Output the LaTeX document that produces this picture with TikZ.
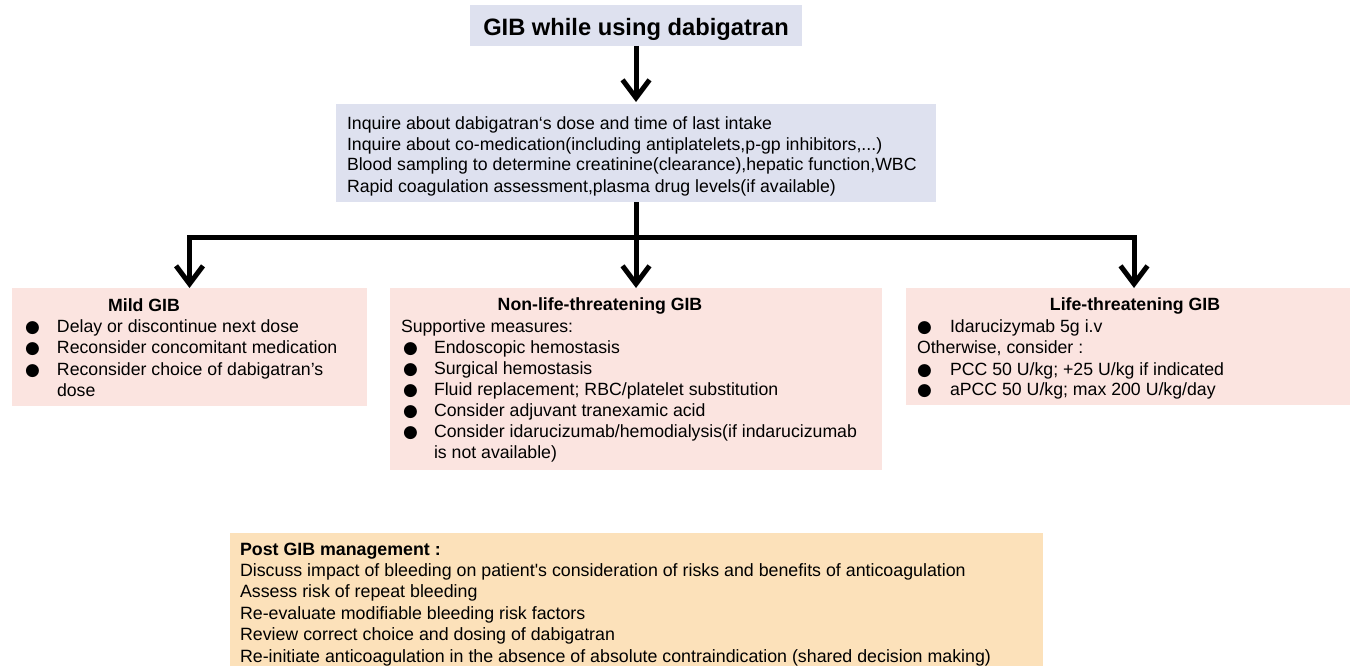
\documentclass[tikz,border=0pt]{standalone}
\usepackage{fontspec}
\setmainfont{Liberation Sans}[Ligatures=TeXOff]
\newfontfamily\dejavu{DejaVu Sans}
\usetikzlibrary{arrows.meta}
\definecolor{lav}{RGB}{222,225,239}
\definecolor{pinkbox}{RGB}{251,228,224}
\definecolor{peach}{RGB}{252,225,186}
\newcommand{\bul}{{\dejavu\fontsize{17}{17}\selectfont ●}}
\newcommand{\bi}[2]{\makebox[#1][l]{\bul}#2}
\begin{document}
\begin{tikzpicture}[x=1pt,y=-1pt,
  box/.style={draw=none,inner sep=0pt,outer sep=0pt,anchor=north west},
  txt/.style={inner sep=0pt,outer sep=0pt,anchor=base west,font=\fontsize{17.7}{20}\selectfont},
  ptxt/.style={inner sep=0pt,outer sep=0pt,anchor=base west,font=\fontsize{17.8}{20}\selectfont},
  ttl/.style={inner sep=0pt,outer sep=0pt,anchor=base,font=\fontsize{17.7}{20}\selectfont\bfseries},
  conn/.style={line width=5pt,-{Straight Barb[length=18pt,width=27pt]}}]
\useasboundingbox (0,0) rectangle (1352,666);
\fill[white] (0,0) rectangle (1352,666);

% boxes
\node[box,fill=lav,minimum width=332pt,minimum height=41pt] (title) at (470,5) {};
\node[box,fill=lav,minimum width=600pt,minimum height=98pt] (info) at (336,104) {};
\node[box,fill=pinkbox,minimum width=355pt,minimum height=118pt] (mild) at (12,288) {};
\node[box,fill=pinkbox,minimum width=492pt,minimum height=182pt] (nonlife) at (390,288) {};
\node[box,fill=pinkbox,minimum width=444pt,minimum height=117pt] (life) at (906,288) {};
\node[box,fill=peach,minimum width=813pt,minimum height=140pt] (post) at (230,533) {};

% title
\node[inner sep=0pt,anchor=base,font=\fontsize{23.7}{26}\selectfont\bfseries] (ttltext) at (636,36) {GIB while using dabigatran};

% info text
\node[txt] (i1) at (347,130) {Inquire about dabigatran‘s dose and time of last intake};
\node[txt] (i2) at (347,150.5) {Inquire about co-medication(including antiplatelets,p-gp inhibitors,...)};
\node[txt] (i3) at (347,171) {Blood sampling to determine creatinine(clearance),hepatic function,WBC};
\node[txt] (i4) at (347,192) {Rapid coagulation assessment,plasma drug levels(if available)};

% mild
\node[ttl] (m0) at (144,311) {Mild GIB};
\node[txt] (m1) at (25,332) {\bi{32pt}{Delay or discontinue next dose}};
\node[txt] (m2) at (25,353) {\bi{32pt}{Reconsider concomitant medication}};
\node[txt] (m3) at (25,375) {\bi{32pt}{Reconsider choice of dabigatran’s}};
\node[txt] (m4) at (57,396) {dose};

% non-life
\node[ttl] (n0) at (600,310) {Non-life-threatening GIB};
\node[txt] (n1) at (401,332) {Supportive measures:};
\node[txt] (n2) at (403,353) {\bi{31pt}{Endoscopic hemostasis}};
\node[txt] (n3) at (403,374) {\bi{31pt}{Surgical hemostasis}};
\node[txt] (n4) at (403,395) {\bi{31pt}{Fluid replacement; RBC/platelet substitution}};
\node[txt] (n5) at (403,416) {\bi{31pt}{Consider adjuvant tranexamic acid}};
\node[txt] (n6) at (403,437) {\bi{31pt}{Consider idarucizumab/hemodialysis(if indarucizumab}};
\node[txt] (n7) at (434,458) {is not available)};

% life
\node[ttl] (l0) at (1135,310) {Life-threatening GIB};
\node[txt] (l1) at (917,332) {\bi{33pt}{Idarucizymab 5g i.v}};
\node[txt] (l2) at (917,353) {Otherwise, consider :};
\node[txt] (l3) at (917,375) {\bi{33pt}{PCC 50 U/kg; +25 U/kg if indicated}};
\node[txt] (l4) at (917,395) {\bi{33pt}{aPCC 50 U/kg; max 200 U/kg/day}};

% post
\node[ptxt,font=\fontsize{17.8}{20}\selectfont\bfseries] (p0) at (240,555) {Post GIB management :};
\node[ptxt] (p1) at (240,576) {Discuss impact of bleeding on patient's consideration of risks and benefits of anticoagulation};
\node[ptxt] (p2) at (240,597) {Assess risk of repeat bleeding};
\node[ptxt] (p3) at (240,619) {Re-evaluate modifiable bleeding risk factors};
\node[ptxt] (p4) at (240,640) {Review correct choice and dosing of dabigatran};
\node[ptxt] (p5) at (240,662) {Re-initiate anticoagulation in the absence of absolute contraindication (shared decision making)};

% connectors
\coordinate (junc) at (636,237);
\coordinate (lifetop) at (1134,288);
\draw[conn,shorten >=2pt] (title.south) -- (info.north);
\draw[conn] (info.south) -- (nonlife.north);
\draw[conn] (junc) -| (mild.north);
\draw[conn] (junc) -| (lifetop);
\end{tikzpicture}
\end{document}
